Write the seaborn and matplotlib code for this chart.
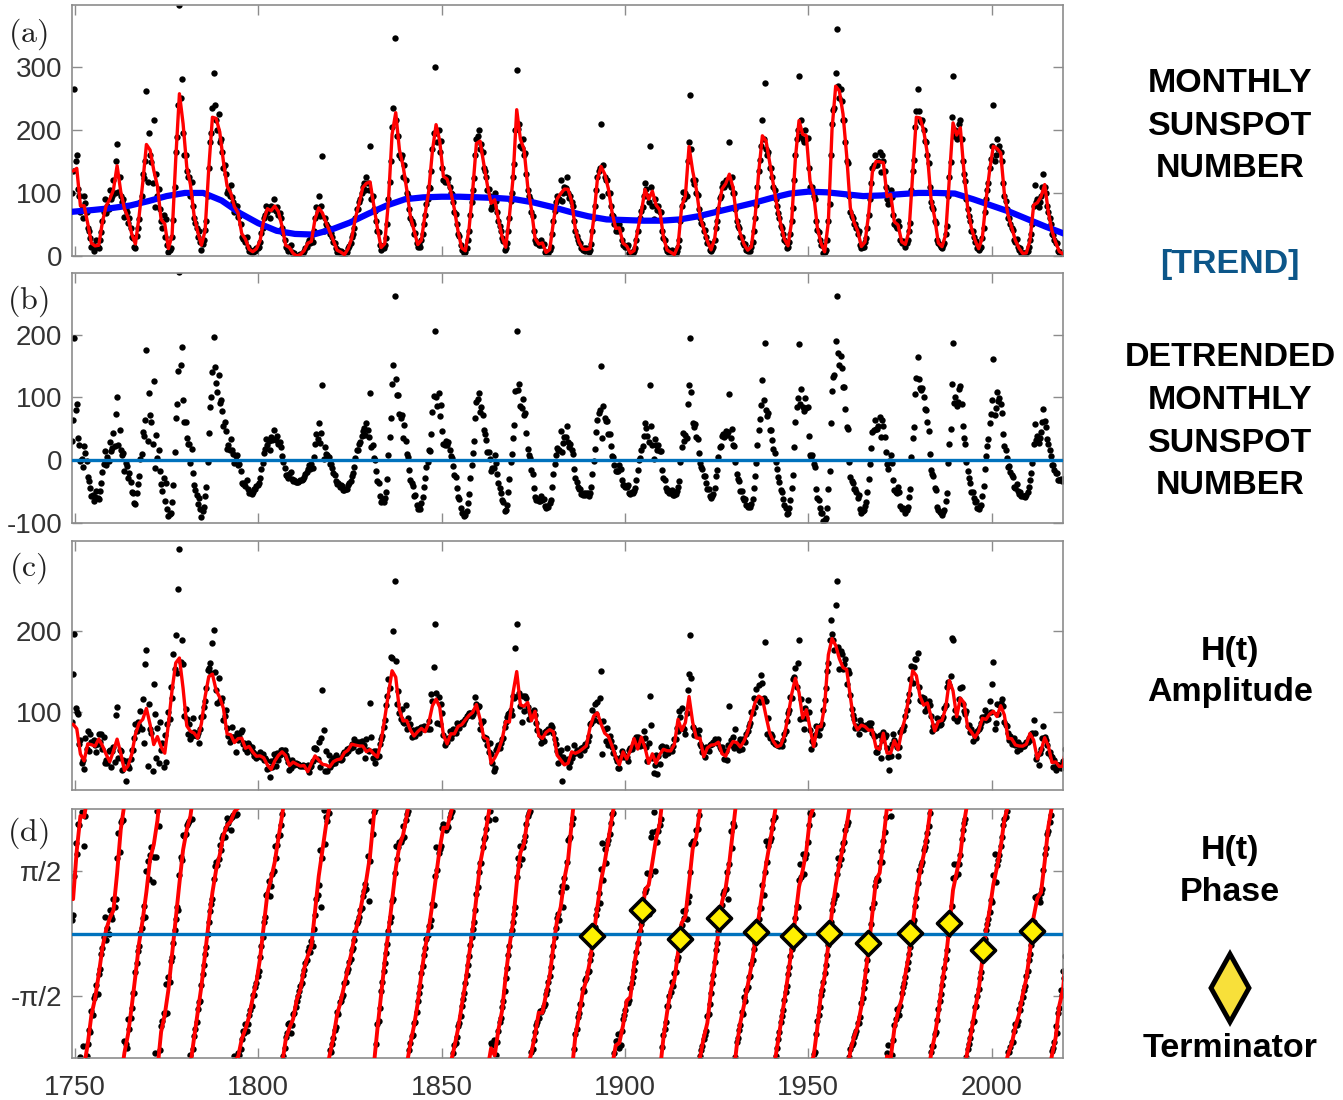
import numpy as np
import pandas as pd
import matplotlib
matplotlib.use("Agg")
import matplotlib.pyplot as plt
import seaborn as sns
from matplotlib.patches import Polygon

# ---------------- data ----------------
first_year = 1749
# yearly mean sunspot number (red curve in panel a)
ssn_yearly = [
    134.7,
    139.0, 79.5, 79.7, 51.2, 20.3, 16.0, 17.0, 54.0, 79.3, 90.0,
    104.8, 143.2, 102.0, 75.2, 60.7, 34.8, 19.0, 63.0, 116.3, 176.8,
    168.0, 136.0, 110.8, 58.0, 51.0, 11.7, 33.0, 154.2, 257.3, 209.8,
    141.3, 113.5, 64.2, 38.0, 17.0, 40.2, 138.2, 220.0, 218.2, 196.8,
    149.8, 111.0, 100.0, 78.2, 68.3, 35.5, 26.7, 10.7, 6.8, 11.3,
    24.2, 56.7, 75.0, 71.8, 79.2, 70.3, 46.8, 16.8, 13.5, 4.2,
    0.0, 2.3, 8.3, 20.3, 23.2, 59.0, 76.3, 68.3, 52.9, 38.5,
    24.2, 9.2, 6.3, 2.2, 11.4, 28.2, 59.9, 83.0, 108.5, 115.2,
    117.4, 80.8, 44.3, 13.4, 19.5, 85.8, 192.7, 227.3, 168.7, 143.0,
    105.5, 63.3, 40.3, 18.1, 25.1, 65.8, 102.7, 166.3, 208.3, 182.5,
    126.3, 122.0, 102.7, 74.1, 39.0, 12.7, 8.2, 43.4, 104.4, 178.3,
    182.2, 146.6, 112.1, 83.5, 89.2, 57.8, 30.7, 13.9, 62.8, 123.6,
    232.0, 185.3, 169.2, 110.1, 74.5, 28.3, 18.9, 20.7, 5.7, 10.0,
    53.7, 90.5, 99.0, 106.1, 105.8, 86.3, 42.4, 21.8, 11.2, 10.4,
    11.8, 59.5, 121.7, 142.0, 130.0, 106.6, 69.4, 43.8, 44.4, 20.2,
    15.7, 4.6, 8.5, 40.8, 70.1, 105.5, 90.1, 102.8, 80.9, 73.2,
    30.9, 9.5, 6.0, 2.4, 16.1, 79.0, 95.0, 173.6, 134.6, 105.7,
    62.7, 43.5, 23.7, 9.7, 27.9, 74.0, 106.5, 114.7, 129.7, 108.2,
    59.4, 35.1, 18.6, 9.2, 14.6, 60.2, 132.8, 190.6, 182.6, 148.0,
    113.0, 79.2, 50.8, 27.1, 16.1, 55.3, 154.3, 214.7, 193.0, 190.7,
    118.9, 98.3, 45.0, 20.1, 6.6, 54.2, 200.7, 269.3, 261.7, 225.1,
    159.0, 76.4, 53.4, 39.9, 15.0, 22.0, 66.8, 132.9, 150.0, 149.4,
    148.0, 94.4, 97.6, 54.1, 49.2, 22.5, 18.4, 39.3, 131.0, 220.1,
    218.9, 198.9, 162.4, 91.0, 60.5, 20.6, 14.8, 33.9, 123.0, 211.1,
    191.8, 203.3, 133.0, 76.1, 44.9, 25.1, 11.6, 28.9, 88.3, 136.3,
    173.9, 170.4, 163.6, 99.3, 65.3, 45.8, 24.7, 12.6, 4.2, 4.8,
    24.9, 80.8, 84.5, 94.0, 113.3, 69.8, 39.8, 21.7, 7.0, 3.6,
    8.8,
]

ssn_4month = [
    100, 135, 265,
    150, 160, 107, 95, 70, 74, 60, 95, 84, 70, 45, 39, 28, 15, 18,
    8, 15, 25, 14, 12, 25, 38, 55, 69, 90, 68, 80, 75, 105, 90,
    95, 120, 100, 150, 178, 102, 125, 95, 86, 90, 62, 74, 70, 52, 60,
    45, 30, 29, 14, 12, 31, 45, 58, 86, 95, 130, 124, 150, 262, 118,
    195, 160, 149, 115, 215, 78, 130, 95, 107, 75, 55, 44, 65, 30, 58,
    18, 7, 10, 12, 30, 57, 110, 165, 188, 240, 398, 250, 280, 195, 160,
    160, 135, 125, 125, 95, 118, 80, 60, 52, 45, 30, 40, 22, 10, 19,
    25, 42, 55, 95, 140, 180, 195, 235, 290, 240, 215, 200, 225, 180, 185,
    165, 140, 145, 130, 100, 105, 95, 112, 93, 85, 70, 80, 80, 62, 63,
    50, 30, 27, 28, 22, 30, 15, 8, 9, 4, 6, 10, 8, 13, 13,
    15, 22, 36, 45, 60, 65, 80, 70, 75, 60, 80, 75, 90, 75, 72,
    78, 65, 68, 60, 45, 36, 25, 14, 12, 8, 15, 18, 6, 3, 4,
    0, 0, 0, 1, 3, 3, 5, 8, 12, 15, 20, 26, 20, 28, 22,
    40, 60, 77, 70, 95, 64, 80, 158, 40, 60, 50, 48, 45, 35, 36,
    30, 22, 20, 12, 7, 9, 4, 8, 7, 1, 2, 4, 6, 12, 16,
    20, 30, 35, 45, 60, 75, 75, 85, 90, 100, 110, 115, 105, 125, 115,
    105, 175, 90, 95, 75, 72, 55, 40, 38, 18, 10, 12, 12, 18, 29,
    50, 90, 118, 150, 205, 235, 345, 215, 190, 190, 160, 155, 160, 125, 145,
    120, 100, 95, 75, 60, 55, 50, 35, 36, 20, 15, 19, 15, 25, 35,
    50, 65, 82, 90, 110, 108, 135, 170, 195, 300, 195, 180, 200, 165, 182,
    140, 120, 118, 125, 118, 123, 110, 100, 98, 85, 70, 67, 50, 35, 32,
    18, 10, 10, 5, 7, 12, 25, 40, 65, 85, 105, 123, 160, 185, 190,
    200, 170, 177, 165, 140, 135, 125, 105, 106, 95, 75, 80, 80, 100, 88,
    70, 55, 48, 40, 28, 24, 10, 12, 20, 40, 60, 88, 100, 125, 146,
    200, 295, 201, 210, 175, 171, 185, 160, 163, 130, 105, 95, 90, 70, 63,
    40, 25, 20, 22, 18, 17, 25, 18, 19, 7, 4, 6, 5, 10, 15,
    35, 55, 71, 85, 95, 92, 90, 120, 87, 100, 110, 108, 125, 100, 92,
    95, 85, 79, 55, 40, 32, 25, 20, 20, 12, 10, 12, 8, 12, 11,
    6, 10, 19, 40, 60, 79, 105, 125, 135, 140, 210, 95, 145, 125, 120,
    120, 100, 100, 80, 65, 63, 50, 40, 41, 40, 50, 43, 25, 18, 18,
    15, 14, 18, 5, 3, 6, 5, 8, 12, 25, 40, 57, 60, 72, 78,
    95, 115, 107, 95, 85, 175, 110, 80, 58, 90, 80, 73, 80, 70, 70,
    40, 28, 25, 12, 8, 9, 5, 4, 9, 2, 2, 3, 8, 15, 25,
    55, 80, 102, 90, 100, 95, 150, 180, 255, 170, 120, 114, 120, 100, 97,
    75, 60, 53, 50, 40, 41, 30, 20, 21, 10, 8, 11, 15, 25, 44,
    55, 75, 92, 95, 110, 115, 110, 120, 114, 120, 180, 110, 125, 100, 100,
    75, 55, 48, 45, 30, 30, 20, 17, 19, 10, 8, 10, 8, 14, 22,
    40, 60, 81, 110, 135, 153, 175, 215, 185, 275, 170, 160, 165, 140, 140,
    125, 110, 105, 90, 80, 68, 60, 48, 45, 35, 25, 22, 12, 15, 22,
    35, 55, 76, 120, 160, 185, 200, 285, 190, 215, 185, 180, 200, 185, 187,
    140, 110, 107, 110, 95, 90, 55, 42, 38, 25, 18, 17, 5, 6, 9,
    25, 55, 83, 160, 210, 232, 235, 290, 360, 270, 250, 265, 245, 215, 215,
    180, 150, 147, 95, 70, 64, 60, 50, 50, 45, 35, 40, 18, 12, 15,
    15, 22, 29, 45, 65, 90, 115, 140, 144, 160, 145, 145, 150, 165, 133,
    160, 150, 134, 110, 90, 83, 95, 105, 93, 65, 50, 47, 45, 55, 48,
    25, 20, 23, 20, 15, 20, 25, 40, 53, 105, 135, 153, 205, 230, 265,
    230, 215, 212, 215, 200, 182, 180, 160, 147, 110, 85, 78, 75, 55, 52,
    25, 20, 17, 15, 12, 17, 20, 35, 47, 95, 125, 149, 220, 285, 190,
    200, 185, 190, 210, 215, 185, 150, 130, 119, 90, 75, 63, 55, 40, 40,
    30, 22, 23, 12, 10, 13, 15, 28, 44, 70, 90, 105, 115, 140, 154,
    175, 240, 150, 160, 185, 170, 175, 165, 150, 115, 95, 88, 75, 60, 61,
    50, 45, 42, 25, 22, 27, 15, 10, 13, 5, 4, 4, 2, 4, 8,
    15, 25, 35, 50, 80, 112, 85, 90, 78, 85, 95, 110, 130, 110, 100,
    80, 70, 60, 50, 35, 34, 25, 20, 20, 8, 6, 7, 3, 4, 4,
    6, 8, 12,
]

# long-term trend (blue curve)
trend_years = [1749, 1755, 1760, 1765, 1770, 1775, 1780, 1785, 1790, 1795,
               1800, 1805, 1810, 1815, 1820, 1825, 1830, 1835, 1840, 1845,
               1850, 1855, 1860, 1865, 1870, 1875, 1880, 1885, 1890, 1895,
               1900, 1905, 1910, 1915, 1920, 1925, 1930, 1935, 1940, 1945,
               1950, 1955, 1960, 1965, 1970, 1975, 1980, 1985, 1990, 1995,
               2000, 2005, 2010, 2015, 2020]
trend_vals = [70, 73, 76, 80, 87, 95, 100, 100, 88, 68,
              52, 40, 35, 34, 42, 53, 67, 80, 90, 93,
              94, 94, 93, 92, 90, 85, 78, 70, 63, 58,
              57, 56, 56, 58, 63, 70, 77, 84, 92, 99,
              102, 101, 98, 95, 96, 98, 100, 100, 99, 90,
              80, 70, 58, 46, 35]

# terminator markers (year, phase in rad)
term_years = [1891.1, 1904.7, 1915.0, 1925.6, 1935.8, 1945.8,
              1955.8, 1966.4, 1977.9, 1988.4, 1997.6, 2011.1]
term_phase = [-0.07, 0.59, -0.13, 0.38, 0.03, -0.07,
              0.02, -0.24, 0.02, 0.27, -0.41, 0.06]

panel_labels = ["(a)", "(b)", "(c)", "(d)"]
x_ticks = [1750, 1800, 1850, 1900, 1950, 2000]

# ---------------- derived series ----------------
ssn_y = np.asarray(ssn_yearly, float)
t_year = first_year + np.arange(len(ssn_y)) + 0.5
ssn_t = np.asarray(ssn_4month, float)
t_tri = first_year + (np.arange(len(ssn_t)) + 0.5) / 3.0


def analytic(x):
    n = len(x)
    X = np.fft.fft(x)
    h = np.zeros(n)
    if n % 2 == 0:
        h[0] = h[n // 2] = 1
        h[1:n // 2] = 2
    else:
        h[0] = 1
        h[1:(n + 1) // 2] = 2
    return np.fft.ifft(X * h)


trend_y = np.interp(t_year, trend_years, trend_vals)
trend_t = np.interp(t_tri, trend_years, trend_vals)
det_y = ssn_y - trend_y
det_t = ssn_t - trend_t
za_y = analytic(det_y) * 1j
za_t = analytic(det_t) * 1j
amp_y, amp_t = np.abs(za_y), np.abs(za_t)
ph_y, ph_t = np.angle(za_y), np.angle(za_t)
ph_y_unw = np.unwrap(ph_y)

df_y = pd.DataFrame({"t": t_year, "ssn": ssn_y, "amp": amp_y})
df_t = pd.DataFrame({"t": t_tri, "ssn": ssn_t, "det": det_t, "amp": amp_t, "ph": ph_t})
df_trend = pd.DataFrame({"t": trend_years, "v": trend_vals})

# ---------------- figure ----------------
sns.set_theme(style="ticks")
plt.rcParams['font.family'] = ['Liberation Sans', 'DejaVu Sans']
plt.rcParams['mathtext.fontset'] = 'cm'
plt.rcParams['axes.unicode_minus'] = False

W, H = 1343, 1100
fig = plt.figure(figsize=(W / 100, H / 100), dpi=100)
fig.patch.set_facecolor("white")

L, R = 72, 1063
rows = [(5, 256), (273, 523), (541, 790), (809, 1058)]
axes = [fig.add_axes([L / W, 1 - b / H, (R - L) / W, (b - t) / H]) for t, b in rows]

DOT = dict(color="black", s=21, linewidth=0, legend=False, zorder=2)

# (a)
ax = axes[0]
sns.scatterplot(data=df_t, x="t", y="ssn", ax=ax, **DOT)
sns.lineplot(data=df_trend, x="t", y="v", ax=ax, color="#0000FF", lw=4.5,
             estimator=None, sort=False, zorder=3)
sns.lineplot(data=df_y, x="t", y="ssn", ax=ax, color="#FF0000", lw=2.4,
             estimator=None, sort=False, zorder=4)
ax.set_ylim(0, 398)
ax.set_yticks([0, 100, 200, 300])

# (b)
ax = axes[1]
sns.scatterplot(data=df_t, x="t", y="det", ax=ax, **DOT)
ax.axhline(0, color="#0072BD", lw=2.4, zorder=3)
ax.set_ylim(-100, 298)
ax.set_yticks([-100, 0, 100, 200])

# (c)
ax = axes[2]
sns.scatterplot(data=df_t, x="t", y="amp", ax=ax, **DOT)
sns.lineplot(data=df_y, x="t", y="amp", ax=ax, color="#FF0000", lw=2.4,
             estimator=None, sort=False, zorder=4)
ax.set_ylim(3.3, 310.7)
ax.set_yticks([100, 200])

# (d)
ax = axes[3]
sns.scatterplot(data=df_t, x="t", y="ph", ax=ax, **DOT)
for k in range(-2, 32):
    sns.lineplot(x=t_year, y=ph_y_unw - 2 * np.pi * k, ax=ax, color="#FF0000",
                 lw=2.8, estimator=None, sort=False, zorder=4)
ax.axhline(0, color="#0072BD", lw=2.4, zorder=5)
sns.scatterplot(x=term_years, y=term_phase, ax=ax, marker="D", s=150,
                color="#FFF000", edgecolor="black", linewidth=2.6,
                legend=False, zorder=6)
ax.set_ylim(-np.pi, np.pi)
ax.set_yticks([-np.pi / 2, np.pi / 2])
ax.set_yticklabels(["-\u03c0/2", "\u03c0/2"])

for i, ax in enumerate(axes):
    ax.set_xlim(1749.2, 2019.5)
    ax.set_xticks(x_ticks)
    ax.set_xlabel("")
    ax.set_ylabel("")
    ax.set_facecolor("white")
    for sp in ax.spines.values():
        sp.set_visible(True)
        sp.set_color("#8c8c8c")
        sp.set_linewidth(1.2)
    ax.tick_params(direction="in", top=True, right=True, length=7, width=1,
                   color="#8c8c8c", labelsize=20, labelcolor="#333333", pad=7)
    ax.tick_params(axis="x", labelbottom=(i == 3), pad=12)
    ax.grid(False)

# panel letters
for lab, yc in zip(panel_labels, [34, 301, 568, 833]):
    fig.text(28 / W, 1 - yc / H, r"$\mathrm{" + lab + "}$", ha="center",
             va="center", fontsize=23, color="#222222")

# right-hand annotations
XC = 1230 / W
rtxt = [("MONTHLY", 92, "black"), ("SUNSPOT", 135, "black"), ("NUMBER", 177, "black"),
        ("[TREND]", 273, "#0C5689"),
        ("DETRENDED", 366, "black"), ("MONTHLY", 409, "black"),
        ("SUNSPOT", 452, "black"), ("NUMBER", 494, "black"),
        ("H(t)", 660, "black"), ("Amplitude", 701, "black"),
        ("H(t)", 859, "black"), ("Phase", 901, "black"),
        ("Terminator", 1057, "black")]
for s, yb, c in rtxt:
    fig.text(XC, 1 - yb / H, s, ha="center", va="baseline", fontsize=24.5,
             fontweight="bold", color=c)

cx, cy, hw, hh = 1230, 988, 19, 34
pts = [(cx, cy - hh), (cx + hw, cy), (cx, cy + hh), (cx - hw, cy)]
poly = Polygon([(x / W, 1 - y / H) for x, y in pts], closed=True,
               facecolor="#F8E03A", edgecolor="black", lw=3.5,
               transform=fig.transFigure)
fig.add_artist(poly)

fig.savefig("out.png", dpi=100, facecolor="white")
